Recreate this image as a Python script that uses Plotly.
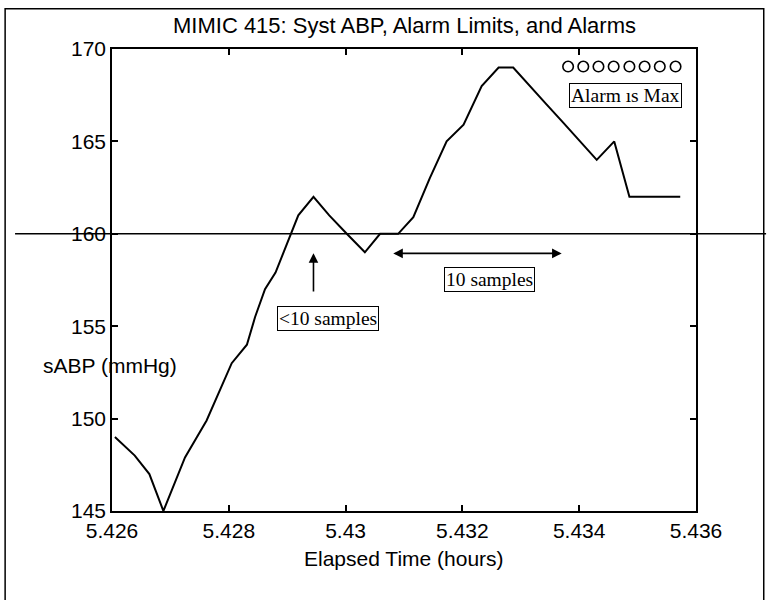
import plotly.graph_objects as go

# ---- data ----
time_h = [5.42605, 5.42639, 5.42664, 5.42688, 5.42725, 5.42762, 5.42805, 5.42831,
          5.42845, 5.42862, 5.42880, 5.42902, 5.42919, 5.42945, 5.42972, 5.43002,
          5.43033, 5.43059, 5.43090, 5.43116, 5.43144, 5.43173, 5.43202, 5.43233,
          5.43262, 5.43287, 5.43315, 5.43344, 5.43373, 5.43401, 5.43430, 5.43460,
          5.43486, 5.43573]
sabp = [149.0, 148.0, 147.0, 145.0, 147.9, 149.9, 153.0, 154.0,
        155.5, 157.0, 157.9, 159.7, 161.0, 162.0, 161.0, 160.0,
        159.0, 160.0, 160.0, 160.9, 163.0, 165.0, 165.9, 168.0,
        169.0, 169.0, 168.0, 167.0, 166.0, 165.0, 164.0, 165.0,
        162.0, 162.0]
alarm_limit = 160
alarm_times = [5.43381, 5.43407, 5.43433, 5.43459, 5.43486, 5.43512, 5.43538, 5.43565]
alarm_level = [169.05] * len(alarm_times)
x_ticks = [5.426, 5.428, 5.430, 5.432, 5.434, 5.436]
x_tick_text = ["5.426", "5.428", "5.43", "5.432", "5.434", "5.436"]
y_ticks = [145, 150, 155, 160, 165, 170]

SANS = "Liberation Sans, Arial, sans-serif"
SERIF = "Liberation Serif, Times New Roman, serif"

fig = go.Figure()
fig.add_trace(go.Scatter(x=time_h, y=sabp, mode="lines",
                         line=dict(color="black", width=2), showlegend=False))
fig.add_trace(go.Scatter(x=alarm_times, y=alarm_level, mode="markers",
                         marker=dict(symbol="circle-open", size=10.5, color="black",
                                     line=dict(width=1.6, color="black")),
                         showlegend=False))

# alarm limit line (extends past the axes)
fig.add_shape(type="line", xref="paper", yref="y", x0=-0.166, x1=1.12,
              y0=alarm_limit, y1=alarm_limit, line=dict(color="black", width=1.6))
# outer frame
fig.add_shape(type="path", xref="paper", yref="paper",
              path="M -0.183,-0.2 L -0.183,1.087 L 1.116,1.087 L 1.116,-0.2",
              line=dict(color="black", width=1.5))

box = dict(bordercolor="black", borderwidth=1, borderpad=1, bgcolor="white",
           font=dict(family=SERIF, size=19.5, color="black"))
fig.add_annotation(x=5.42969, y=155.44, text="&lt;10 samples", showarrow=False, **box)
fig.add_annotation(x=5.43246, y=157.55, text="10 samples", showarrow=False, **box)
fig.add_annotation(x=5.43479, y=167.51, text="Alarm ıs Max", showarrow=False, **box)

# arrows
fig.add_annotation(x=5.42945, y=158.95, ax=5.42945, ay=156.8, axref="x", ayref="y",
                   text="", showarrow=True, arrowhead=2, arrowsize=1.2, arrowwidth=1.6,
                   arrowcolor="black")
fig.add_annotation(x=5.43370, y=158.94, ax=5.43079, ay=158.94, axref="x", ayref="y",
                   text="", showarrow=True, arrowhead=2, startarrowhead=2,
                   arrowside="end+start", arrowsize=1.2, startarrowsize=1.2,
                   arrowwidth=1.6, arrowcolor="black")

# title and axis titles
fig.add_annotation(xref="paper", yref="paper", x=0.5, y=1.05, yanchor="middle",
                   text="MIMIC 415: Syst ABP, Alarm Limits, and Alarms", showarrow=False,
                   font=dict(family=SANS, size=22, color="black"))
fig.add_annotation(xref="paper", yref="paper", x=-0.122, y=0.316, xanchor="left",
                   yanchor="middle", text="sABP (mmHg)", showarrow=False,
                   font=dict(family=SANS, size=21, color="black"))
fig.add_annotation(xref="paper", yref="paper", x=0.5, y=-0.102, yanchor="middle",
                   text="Elapsed Time (hours)", showarrow=False,
                   font=dict(family=SANS, size=21, color="black"))

axis_common = dict(showline=True, linecolor="black", linewidth=1.5, mirror="ticks",
                   ticks="inside", ticklen=6, tickwidth=1.5, tickcolor="black",
                   showgrid=False, zeroline=False,
                   tickfont=dict(family=SANS, size=21, color="black"))
fig.update_xaxes(range=[5.426, 5.436], tickvals=x_ticks, ticktext=x_tick_text, **axis_common)
fig.update_yaxes(range=[145, 170], tickvals=y_ticks, **axis_common)

fig.update_layout(width=767, height=600, autosize=False,
                  margin=dict(l=112, r=71, t=49, b=89),
                  plot_bgcolor="white", paper_bgcolor="white")

fig.write_html("out.html")
